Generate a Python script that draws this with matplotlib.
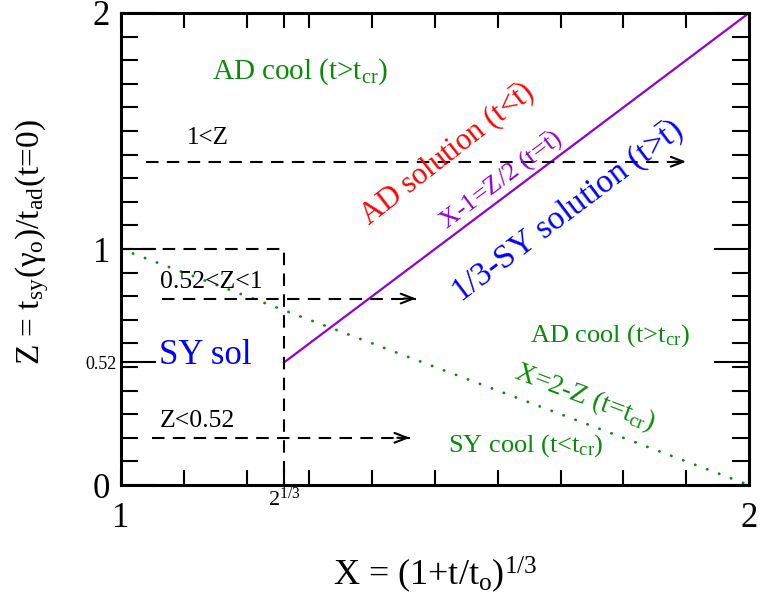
import numpy as np
import matplotlib.pyplot as plt
from matplotlib.ticker import MultipleLocator

plt.rcParams['font.family'] = ['Liberation Serif', 'DejaVu Serif']
plt.rcParams['mathtext.fontset'] = 'custom'
plt.rcParams['mathtext.rm'] = 'Liberation Serif'
plt.rcParams['mathtext.it'] = 'Liberation Serif'
plt.rcParams['mathtext.bf'] = 'Liberation Serif'

# lines
sy_x = [1.26, 2.0]          # X-1 = Z/2, starts at X = 2^(1/3)
sy_z = [0.52, 2.0]
cool_x = [1.0, 2.0]         # X = 2 - Z
cool_z = [1.0, 0.0]
box_x = [1.0, 1.26, 1.26]
box_z = [1.0, 1.0, 0.0]

# dashed arrows: level, start, tip
arrow_z = [1.37, 0.79, 0.20]
arrow_x0 = [1.04, 1.065, 1.05]
arrow_x1 = [1.90, 1.47, 1.46]

green = '#0a8a0a'
purple = '#9400d3'

fig = plt.figure(figsize=(7.6, 5.99), dpi=100)
ax = fig.add_axes([0.1592, 0.1903, 0.8263, 0.788])

ax.plot(sy_x, sy_z, color=purple, lw=1.6)
ax.plot(cool_x, cool_z, color=green, lw=2.0, linestyle=(0, (0.1, 4.5)),
        dash_capstyle='round')
ax.plot(box_x, box_z, color='black', lw=1.5, linestyle=(0, (6, 4)))

for z, x0, x1 in zip(arrow_z, arrow_x0, arrow_x1):
    ax.plot([x0, x1], [z, z], color='black', lw=1.5, linestyle=(0, (6, 4)))
    ax.annotate('', xy=(x1, z), xytext=(x1 - 0.02, z),
                arrowprops=dict(arrowstyle='->, head_length=0.9, head_width=0.35',
                                color='black', lw=1.5, shrinkA=0, shrinkB=0))

ax.set_xlim(1, 2)
ax.set_ylim(0, 2)

ax.set_xticks([1, 1.26, 2])
ax.set_xticklabels(['1', '$2^{1/3}$', '2'])
ax.xaxis.set_minor_locator(MultipleLocator(0.1))
ax.set_yticks([0, 0.52, 1, 2])
ax.set_yticklabels(['0', '0.52', '1', '2'])
ax.yaxis.set_minor_locator(MultipleLocator(0.1))

ax.tick_params(which='both', direction='in', top=True, right=True, width=1.5)
ax.tick_params(axis='x', which='major', length=11, labelsize=25, pad=12)
ax.tick_params(axis='x', which='minor', length=11)
ax.tick_params(axis='y', which='major', length=25, labelsize=25, pad=8)
ax.tick_params(axis='y', which='minor', length=12)

xt = ax.xaxis.get_major_ticks()[1]
xt.tick1line.set_markersize(7)
xt.tick2line.set_markersize(0)
xt.label1.set_fontsize(16)
xt.set_pad(2)
yt = ax.yaxis.get_major_ticks()[1]
yt.tick1line.set_markersize(0)
yt.tick2line.set_markersize(0)
yt.label1.set_fontsize(13)
yt.set_pad(3)

for s in ax.spines.values():
    s.set_linewidth(2.2)

ax.set_xlabel(r'X = (1+t/t$_\mathrm{o}$)$^{1/3}$', fontsize=26)
ax.set_ylabel(r'Z = t$_\mathrm{sy}$($\gamma_\mathrm{o}$)/t$_\mathrm{ad}$(t=0)', fontsize=24)
ax.xaxis.set_label_coords(0.5, -0.148)
ax.yaxis.set_label_coords(-0.112, 0.515)

ax.text(1.285, 1.75, r'AD cool (t>t$_\mathrm{cr}$)', color=green, fontsize=21,
        ha='center', va='center')
ax.text(1.105, 1.47, '1<Z', color='black', fontsize=18, ha='left', va='center')
ax.text(1.52, 1.40, r'AD solution (t<$\bar{\mathrm{t}}$)', color='red', fontsize=22,
        rotation=38, ha='center', va='center', rotation_mode='anchor')
ax.text(1.605, 1.29, r'X-1=Z/2 (t=$\bar{\mathrm{t}}$)', color=purple, fontsize=19,
        rotation=37, ha='center', va='center', rotation_mode='anchor')
ax.text(1.71, 1.16, r'1/3-SY solution (t>$\bar{\mathrm{t}}$)', color='blue', fontsize=24,
        rotation=37, ha='center', va='center', rotation_mode='anchor')
ax.text(1.135, 0.55, 'SY sol', color='blue', fontsize=25, ha='center', va='center')
ax.text(1.062, 0.86, '0.52<Z<1', color='black', fontsize=18.5, ha='left', va='center')
ax.text(1.062, 0.27, 'Z<0.52', color='black', fontsize=18.5, ha='left', va='center')
ax.text(1.778, 0.635, r'AD cool (t>t$_\mathrm{cr}$)', color=green, fontsize=19,
        ha='center', va='center')
ax.text(1.738, 0.37, r'X=2-Z (t=t$_\mathrm{cr}$)', color=green, fontsize=20,
        rotation=-20.7, ha='center', va='center', rotation_mode='anchor')
ax.text(1.645, 0.165, r'SY cool (t<t$_\mathrm{cr}$)', color=green, fontsize=19,
        ha='center', va='center')

fig.savefig('out.png', dpi=100)
